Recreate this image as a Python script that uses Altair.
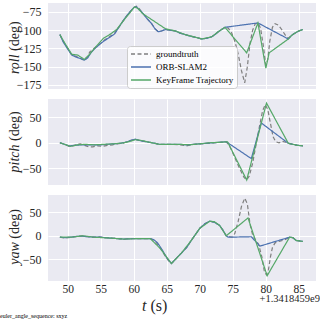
import altair as alt
import pandas as pd

# ---------------- data ----------------
SERIES = ["groundtruth", "ORB-SLAM2", "KeyFrame Trajectory"]
COLORS = ["#7f7f7f", "#4c72b0", "#55a868"]
X_TICKS = [50, 55, 60, 65, 70, 75, 80, 85]

# roll
gt_roll_t = [48.8, 49.3, 50.0, 50.6, 51.3, 52.0, 52.5, 53.0, 53.3, 53.7, 54.1, 55.0, 55.6, 56.3, 57.1, 57.8,
             58.6, 59.3, 60.0, 60.4, 60.8, 61.2, 62.0, 62.7, 63.2, 63.7, 64.2, 64.8, 65.5, 66.3, 67.0, 67.8,
             68.5, 69.5, 70.3, 71.0, 71.8, 72.3, 72.8, 73.3, 73.8, 74.3, 74.8, 75.3, 75.8, 76.3, 76.8, 77.2,
             77.6, 78.0, 78.4, 78.8, 79.2, 79.6, 80.0, 80.3, 80.6, 81.0, 81.4, 81.9, 82.4, 82.9, 83.4, 83.9,
             84.4, 85.0, 85.6]
gt_roll = [-106, -115, -125, -134, -136, -139, -141, -137, -130, -127, -124, -118, -113, -109, -104, -95,
           -84, -76, -69, -67, -70, -75, -84, -91, -98, -102, -101, -99, -100, -101, -104, -106,
           -108, -110, -112, -111, -109, -106, -102, -99, -96, -97, -103, -115, -132, -155, -172, -150,
           -118, -100, -91, -90, -97, -120, -148, -140, -115, -96, -91, -93, -99, -106, -111, -107,
           -104, -101, -99]
orb_roll_t = [48.8, 49.3, 50.0, 50.6, 51.3, 52.0, 52.5, 53.0, 53.5, 54.1, 55.0, 55.6, 56.3, 57.1, 57.8, 58.6,
              59.3, 60.0, 60.4, 61.2, 62.0, 62.7, 63.2, 63.7, 64.2, 64.8, 65.5, 66.3, 67.0, 67.8, 68.5, 69.5,
              70.3, 71.0, 71.8, 72.3, 72.8, 73.3, 73.8, 78.8, 83.4, 83.9, 84.4, 85.0, 85.6]
orb_roll = [-106, -116, -126, -134, -137, -139, -141, -138, -131, -125, -118, -114, -110, -105, -95, -84,
            -76, -69, -68, -75, -84, -91, -98, -102, -101, -99, -100, -101, -104, -106, -108, -110,
            -112, -111, -109, -106, -102, -99, -96, -90, -112, -107, -104, -101, -99]
kf_roll_t = [48.8, 49.5, 50.6, 51.5, 52.5, 53.3, 54.3, 55.4, 56.5, 57.4, 58.6, 59.5, 60.1, 60.6, 61.3, 64.8,
             66.3, 67.8, 69.5, 70.3, 71.8, 72.8, 73.8, 77.1, 78.8, 80.0, 80.5, 83.4, 83.9, 84.4, 85.0, 85.6]
kf_roll = [-106, -117, -133, -134, -140, -133, -122, -111, -105, -99, -85, -75, -68, -70, -77, -98,
           -101, -106, -110, -112, -109, -102, -96, -131, -90, -152, -131, -112, -107, -104, -101, -99]

# pitch
gt_pitch_t = [48.8, 49.5, 50.2, 50.8, 51.4, 51.9, 52.5, 53.2, 53.8, 54.5, 55.2, 56.0, 56.8, 57.5, 58.3, 59.0,
              59.6, 60.2, 61.0, 61.9, 62.8, 63.9, 65.0, 66.0, 67.0, 68.0, 69.0, 70.0, 71.0, 72.0, 73.0, 74.0,
              74.5, 75.0, 75.6, 76.2, 76.7, 77.1, 77.5, 78.0, 78.5, 79.0, 79.5, 79.9, 80.3, 80.7, 81.1, 81.5,
              82.0, 82.5, 83.0, 83.5, 84.1, 84.8, 85.6]
gt_pitch = [0, -3, -7, -6, -3, -2, -5, -8, -8, -6, -7, -5, -4, -2, -1, 2,
            5, 7, 4, 2, 0, -3, -3, -3, -4, -6, -3, -2, -1, 0, 1, 2,
            -6, -20, -38, -55, -68, -73, -65, -40, -5, 30, 62, 75, 65, 38, 12, 2,
            0, 3, 1, -1, -3, -5, -6]
orb_pitch_t = [48.8, 49.5, 50.2, 51.0, 52.0, 53.0, 54.0, 55.0, 56.0, 57.0, 58.0, 59.0, 59.6, 60.2, 61.0, 61.9,
               62.8, 63.9, 65.0, 66.0, 67.0, 68.0, 69.0, 70.0, 71.0, 72.0, 73.0, 74.0, 77.8, 79.3, 83.4, 84.1,
               84.8, 85.6]
orb_pitch = [0, -3, -6, -5, -4, -4, -4, -4, -3, -2, -1, 2, 5, 7, 4, 2,
             0, -3, -3, -3, -3, -4, -3, -2, -1, 0, 1, 2, -31, 39, -1, -3,
             -5, -6]
kf_pitch_t = [48.8, 49.5, 50.4, 51.5, 52.5, 54.0, 55.5, 57.0, 58.5, 59.5, 60.2, 61.0, 62.0, 63.9, 65.5, 67.0,
              68.5, 70.0, 71.5, 73.0, 74.2, 77.1, 80.1, 83.4, 84.1, 84.8, 85.6]
kf_pitch = [0, -3, -7, -4, -3, -4, -3, -2, 0, 3, 6, 5, 2, -3, -3, -3,
            -4, -2, 0, 1, 2, -73, 78, -1, -3, -5, -6]

# yaw
gt_yaw_t = [48.8, 49.5, 50.5, 51.5, 52.3, 53.0, 54.0, 54.8, 55.5, 56.5, 57.5, 58.5, 59.5, 60.5, 61.5, 62.5,
            63.0, 63.5, 64.1, 64.8, 65.3, 65.7, 66.2, 66.7, 67.2, 68.0, 68.7, 69.3, 70.0, 70.8, 71.5, 72.2,
            73.0, 73.5, 74.0, 74.4, 74.9, 75.3, 75.8, 76.3, 76.8, 77.2, 77.6, 78.0, 78.4, 78.9, 79.4, 79.8,
            80.1, 80.4, 80.7, 81.0, 81.4, 82.0, 82.8, 83.6, 84.1, 84.6, 85.1, 85.6]
gt_yaw = [-3, -5, -3, -1, 0, -2, -3, -2, -4, -5, -6, -7, -6, -6, -6, -6,
          -9, -16, -28, -44, -54, -59, -52, -44, -37, -25, -10, 2, 16, 26, 31, 29,
          22, 12, 0, -2, -3, 5, 30, 62, 80, 68, 25, 2, -8, -18, -45, -78,
          -83, -72, -45, -25, -15, -12, -9, -3, -4, -10, -11, -12]
orb_yaw_t = [48.8, 49.5, 50.5, 51.5, 52.3, 53.0, 54.0, 55.0, 56.5, 57.5, 58.5, 60.0, 61.5, 62.5, 63.0, 63.6,
             64.3, 65.0, 65.7, 66.3, 67.2, 68.0, 68.7, 69.3, 70.0, 70.8, 71.5, 72.2, 73.0, 73.5, 74.0, 74.3,
             77.8, 79.1, 83.6, 84.1, 84.6, 85.1, 85.6]
orb_yaw = [-3, -4, -3, -1, -1, -2, -3, -3, -5, -6, -7, -6, -6, -6, -8, -15,
           -30, -47, -59, -50, -37, -25, -10, 2, 16, 26, 31, 29, 22, 12, 0, -3,
           -2, -22, -3, -4, -10, -11, -12]
kf_yaw_t = [48.8, 50.5, 52.3, 54.0, 56.5, 58.5, 60.5, 62.5, 64.0, 65.7, 67.2, 68.7, 70.0, 71.5, 72.2, 73.0,
            74.0, 77.3, 80.2, 83.6, 84.1, 84.6, 85.1, 85.6]
kf_yaw = [-3, -3, 0, -3, -5, -7, -6, -6, -27, -59, -37, -10, 16, 31, 30, 22,
          0, 38, -85, -3, -4, -10, -11, -12]

# ---------------- layout ----------------
FONT = "Liberation Serif, Times New Roman, serif"
TXT = "#262626"
W, H = 268, 86
X_DOMAIN = [47.0, 87.6]


def frame(parts):
    rows = []
    for name, ts, vs in parts:
        for t, v in zip(ts, vs):
            rows.append({"series": name, "t": t, "v": v})
    return pd.DataFrame(rows)


def one():
    return alt.Chart(pd.DataFrame({"k": [0]}))


def ylabel(word, w_it, yc):
    total = w_it + 3.5 + 29.5
    p = yc + total / 2 - w_it
    a = one().mark_text(angle=270, align="right", baseline="middle", font=FONT, fontSize=14,
                        fontStyle="italic", color=TXT).encode(
        x=alt.value(-33), y=alt.value(p), text=alt.value(word))
    b = one().mark_text(angle=270, align="left", baseline="middle", font=FONT, fontSize=14,
                        color=TXT).encode(
        x=alt.value(-33), y=alt.value(p - 3.5), text=alt.value("(deg)"))
    return [a, b]


def panel(df, ydomain, yticks, word, w_it, yc, bottom, legend):
    xaxis = alt.Axis(values=X_TICKS, title=None, labels=bottom, ticks=False, tickSize=0, domain=False,
                     grid=True, labelPadding=2, labelFontSize=11.5, labelFont=FONT, labelColor=TXT)
    yaxis = alt.Axis(values=yticks, title=None, ticks=False, tickSize=0, domain=False, grid=True,
                     labelPadding=7, labelFontSize=12, labelFont=FONT, labelColor=TXT)
    if legend:
        leg = alt.Legend(title=None, orient="none", legendX=79, legendY=43,
                         fillColor="rgba(255,255,255,0.8)", strokeColor="#cccccc", cornerRadius=3,
                         padding=3, rowPadding=3, labelFont=FONT, labelFontSize=9, labelColor="#000000",
                         symbolType="M-1,0L4,0", symbolSize=64, symbolStrokeWidth=1.5, labelOffset=16,
                         labelLimit=200)
    else:
        leg = None
    layers = []
    for i, name in enumerate(SERIES):
        layers.append(
            alt.Chart(df).transform_filter(alt.datum.series == name).mark_line(strokeWidth=1.2, clip=True).encode(
                x=alt.X("t:Q", scale=alt.Scale(domain=X_DOMAIN, nice=False, zero=False), axis=xaxis),
                y=alt.Y("v:Q", scale=alt.Scale(domain=ydomain, nice=False, zero=False), axis=yaxis),
                color=alt.Color("series:N", scale=alt.Scale(domain=SERIES, range=COLORS), legend=leg),
                strokeDash=alt.StrokeDash("series:N", scale=alt.Scale(domain=SERIES,
                                                                      range=[[4, 2.5], [1, 0], [1, 0]]),
                                          legend=leg),
                order=alt.Order("t:Q"),
            )
        )
    layers += ylabel(word, w_it, yc)
    if bottom:
        layers.append(one().mark_text(align="left", baseline="middle", font=FONT, fontSize=16,
                                      fontStyle="italic", color=TXT).encode(
            x=alt.value(94), y=alt.value(111), text=alt.value("t")))
        layers.append(one().mark_text(align="left", baseline="middle", font=FONT, fontSize=16,
                                      color=TXT).encode(
            x=alt.value(102.4), y=alt.value(111), text=alt.value("(s)")))
        layers.append(one().mark_text(align="right", baseline="middle", font=FONT, fontSize=10.5,
                                      color=TXT).encode(
            x=alt.value(272), y=alt.value(104), text=alt.value("+1.3418459e9")))
        layers.append(one().mark_text(align="left", baseline="middle", font=FONT, fontSize=6,
                                      color="#000000").encode(
            x=alt.value(-48), y=alt.value(121), text=alt.value("euler_angle_sequence: sxyz")))
    return alt.layer(*layers).properties(width=W, height=H)


roll_df = frame([(SERIES[0], gt_roll_t, gt_roll), (SERIES[1], orb_roll_t, orb_roll), (SERIES[2], kf_roll_t, kf_roll)])
pitch_df = frame([(SERIES[0], gt_pitch_t, gt_pitch), (SERIES[1], orb_pitch_t, orb_pitch), (SERIES[2], kf_pitch_t, kf_pitch)])
yaw_df = frame([(SERIES[0], gt_yaw_t, gt_yaw), (SERIES[1], orb_yaw_t, orb_yaw), (SERIES[2], kf_yaw_t, kf_yaw)])

p1 = panel(roll_df, [-180.5, -62.7], [-175, -150, -125, -100, -75], "roll", 20.2, 45, False, True)
p2 = panel(pitch_df, [-82.8, 85.9], [-50, 0, 50], "pitch", 28.0, 43, False, False)
p3 = panel(yaw_df, [-96.2, 86.8], [-50, 0, 50], "yaw", 22.6, 42, True, False)

chart = alt.vconcat(p1, p2, p3, spacing=10, bounds="flush").resolve_scale(
    color="independent", strokeDash="independent"
).properties(
    padding={"left": 0, "top": 3, "right": 0, "bottom": 0}, background="white"
).configure(
    font=FONT
).configure_view(
    stroke=None, fill="#EAEAF2"
).configure_axis(
    gridColor="#ffffff", gridWidth=1
)

chart.save("out.html", embed_options={"renderer": "svg", "actions": False})
